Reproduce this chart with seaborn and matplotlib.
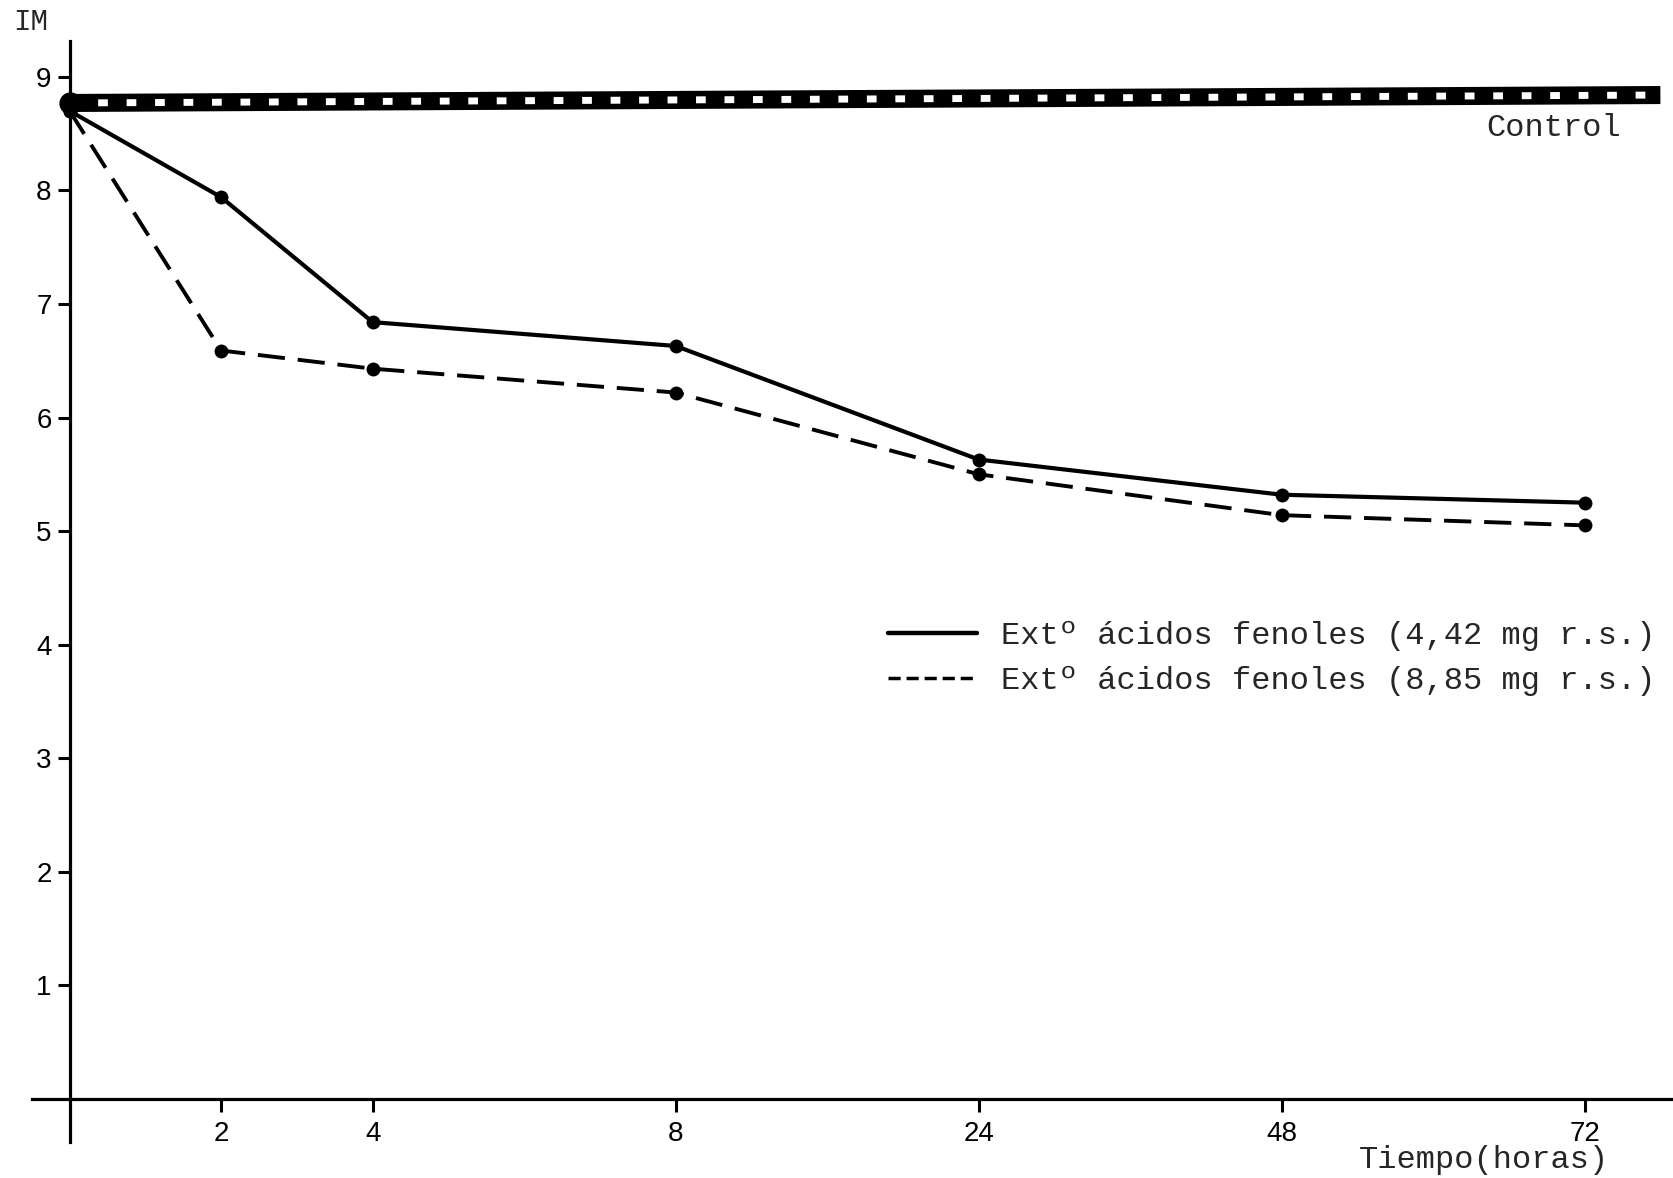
import numpy as np
import pandas as pd
import seaborn as sns
import matplotlib.pyplot as plt
from matplotlib.lines import Line2D

# Data
hours = [0, 2, 4, 8, 24, 48, 72]
im_442 = [8.70, 7.94, 6.84, 6.63, 5.63, 5.32, 5.25]
im_885 = [8.70, 6.59, 6.43, 6.22, 5.50, 5.14, 5.05]
control_hours = [0, 78]
control_im = [8.77, 8.84]
label_442 = 'Extº ácidos fenoles (4,42 mg r.s.)'
label_885 = 'Extº ácidos fenoles (8,85 mg r.s.)'
xtick_hours = [2, 4, 8, 24, 48, 72]
ytick_vals = [1, 2, 3, 4, 5, 6, 7, 8, 9]

# the time axis in the original is drawn on an uneven (ordinal-like) scale
scale_hours = [0, 2, 4, 8, 24, 48, 72]
scale_pos = [0, 1, 2, 4, 6, 8, 10]


def fwd(h):
    h = np.asarray(h, dtype=float)
    out = np.interp(h, scale_hours, scale_pos)
    out = np.where(h > 72, 10 + (h - 72) / 12.0, out)
    out = np.where(h < 0, h / 2.0, out)
    return out


def inv(p):
    p = np.asarray(p, dtype=float)
    out = np.interp(p, scale_pos, scale_hours)
    out = np.where(p > 10, 72 + (p - 10) * 12.0, out)
    out = np.where(p < 0, p * 2.0, out)
    return out


df = pd.DataFrame({'hours': hours, 'a': im_442, 'b': im_885})

sns.set_style('white')
plt.rcParams['font.family'] = ['Liberation Sans', 'DejaVu Sans']
mono = ['Liberation Mono', 'DejaVu Sans Mono']

fig = plt.figure(figsize=(16.73, 11.78), dpi=100)
ax = fig.add_axes([0.019, 0.0306, 0.981, 0.935])
ax.set_xscale('function', functions=(fwd, inv))

# control band: thick black line with white marks inside
sns.lineplot(x=control_hours, y=control_im, color='black', lw=13,
             solid_capstyle='butt', ax=ax, legend=False)
ax.plot(control_hours, control_im, color='white', lw=5,
        linestyle=(0, (1.4, 2.7)))
ax.plot(control_hours[:1], control_im[:1], 'o', color='black', ms=15)

sns.lineplot(data=df, x='hours', y='a', color='black', lw=3, marker='o',
             markersize=10, markeredgewidth=0, ax=ax, legend=False)
sns.lineplot(data=df, x='hours', y='b', color='black', lw=2.8, marker='o',
             markersize=10, markeredgewidth=0, linestyle=(0, (7, 3.3)),
             ax=ax, legend=False)

ax.set_xlim(-0.5, 79)
ax.set_ylim(-0.38, 9.32)

for side in ['top', 'right']:
    ax.spines[side].set_visible(False)
ax.spines['left'].set_position(('data', 0))
ax.spines['bottom'].set_position(('data', 0))
for side in ['left', 'bottom']:
    ax.spines[side].set_linewidth(2.3)
    ax.spines[side].set_color('black')

ax.set_xticks(xtick_hours)
ax.set_xticklabels([str(h) for h in xtick_hours])
ax.set_yticks(ytick_vals)
ax.set_yticklabels([str(v) for v in ytick_vals])
ax.tick_params(axis='y', left=True, direction='out', length=9, width=2.2,
               pad=4, labelsize=20, colors='black')
ax.tick_params(axis='x', bottom=True, direction='out', length=9, width=2.2,
               pad=7, labelsize=20, colors='black')
ax.set_xlabel('')
ax.set_ylabel('')

ax.text(74.9, 8.55, 'Control', ha='right', va='center', fontsize=23,
        family=mono)

handles = [Line2D([], [], color='black', lw=3.2),
           Line2D([], [], color='black', lw=2.5, linestyle=(0, (3.5, 1.7)))]
ax.legend(handles, [label_442, label_885], loc='center left',
          bbox_to_anchor=(888 / 1673, 1 - 658.5 / 1178),
          bbox_transform=fig.transFigure, frameon=False,
          prop={'family': mono, 'size': 23}, handlelength=2.8,
          handletextpad=0.75, labelspacing=0.45, borderpad=0,
          borderaxespad=0)

fig.text(31 / 1673, 1 - 22 / 1178, 'IM', ha='center', va='center',
         fontsize=21, family=mono)
fig.text(1609 / 1673, 1 - 1160 / 1178, 'Tiempo(horas)', ha='right',
         va='center', fontsize=23, family=mono)

plt.savefig('out.png', dpi=100)
